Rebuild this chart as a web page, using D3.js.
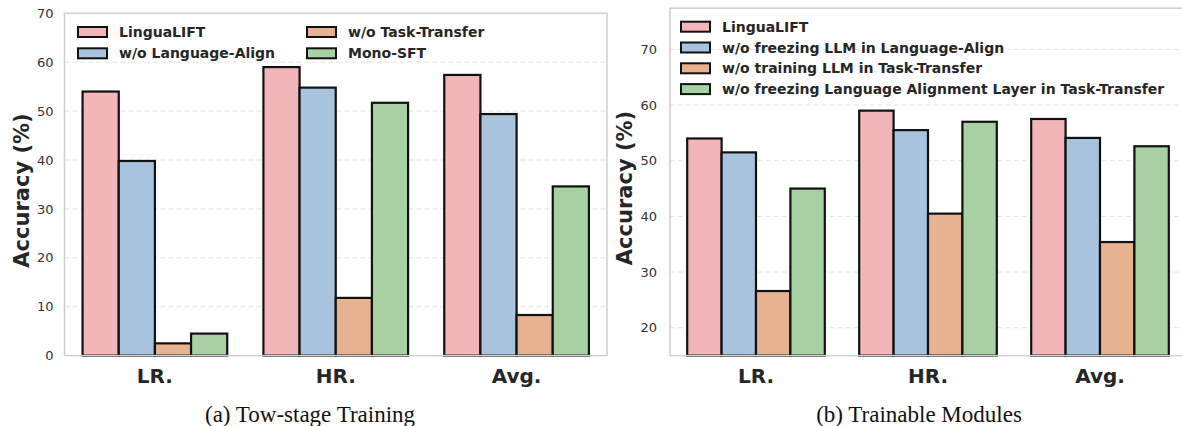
<!DOCTYPE html>
<html><head><meta charset="utf-8">
<script src="https://cdn.jsdelivr.net/npm/d3@7"></script>
<style>body{margin:0;background:#fff}svg{display:block}</style>
</head><body><svg id="c" width="1182" height="426"></svg>
<script>
const categories = ["LR.", "HR.", "Avg."];
const colors = ["#f3b6b8", "#a7c3de", "#e6b290", "#a8d1a3"];

const seriesA = ["LinguaLIFT", "w/o Language-Align", "w/o Task-Transfer", "Mono-SFT"];
const valuesA = [
  [54.0, 59.0, 57.4],
  [39.8, 54.8, 49.4],
  [2.5, 11.8, 8.3],
  [4.5, 51.7, 34.6]
];
const ticksA = [0, 10, 20, 30, 40, 50, 60, 70];

const seriesB = ["LinguaLIFT", "w/o freezing LLM in Language-Align", "w/o training LLM in Task-Transfer", "w/o freezing Language Alignment Layer in Task-Transfer"];
const valuesB = [
  [54.0, 59.0, 57.5],
  [51.5, 55.5, 54.1],
  [26.6, 40.5, 35.4],
  [45.0, 57.0, 52.6]
];
const ticksB = [20, 30, 40, 50, 60, 70];

const svg = d3.select("#c");

function panel(cfg) {
  const g = svg.append("g");
  const x = d3.scaleBand().domain(categories).range([cfg.x0, cfg.x1]).paddingInner(0).paddingOuter(0);
  const y = d3.scaleLinear().domain(cfg.yDomain).range([cfg.yb, cfg.yt]);
  g.selectAll(".grid").data(cfg.ticks).enter().append("line")
    .attr("x1", cfg.x0).attr("x2", cfg.x1).attr("y1", d => y(d)).attr("y2", d => y(d))
    .attr("stroke", "#e3e3e3").attr("stroke-width", 1).attr("stroke-dasharray", "5,3");
  const ya = d3.axisLeft(y).tickValues(cfg.ticks).tickSize(0).tickPadding(cfg.tp);
  const yg = g.append("g").attr("transform", `translate(${cfg.x0},0)`).call(ya);
  yg.select(".domain").remove();
  yg.selectAll("text").attr("font-family", "DejaVu Sans").attr("font-size", 13).attr("fill", "#333");
  cfg.values.forEach((vals, si) => {
    g.selectAll(".b" + si).data(vals).enter().append("rect")
      .attr("x", (d, i) => x(categories[i]) + x.bandwidth() * 0.1 + si * x.bandwidth() * 0.2)
      .attr("width", x.bandwidth() * 0.2)
      .attr("y", d => y(d))
      .attr("height", d => y(cfg.yDomain[0]) - y(d))
      .attr("fill", colors[si]).attr("stroke", "#111").attr("stroke-width", 2.2);
  });
  g.append("rect").attr("x", cfg.x0).attr("y", cfg.yt).attr("width", cfg.x1 - cfg.x0).attr("height", cfg.yb - cfg.yt)
    .attr("fill", "none").attr("stroke", "#cfcfcf").attr("stroke-width", 1.5);
  g.selectAll(".xl").data(categories).enter().append("text")
    .attr("x", d => x(d) + x.bandwidth() / 2).attr("y", 383)
    .attr("text-anchor", "middle").attr("font-family", "DejaVu Sans").attr("font-weight", "bold")
    .attr("font-size", 20).attr("fill", "#262626").text(d => d);
  g.append("text").attr("transform", `translate(${cfg.ylx},${cfg.ylc}) rotate(-90)`)
    .attr("text-anchor", "middle").attr("font-family", "DejaVu Sans").attr("font-weight", "bold")
    .attr("font-size", 21).attr("fill", "#262626").text("Accuracy (%)");
  const lg = g.append("g");
  cfg.series.forEach((s, i) => {
    const p = cfg.legendPos[i];
    lg.append("rect").attr("x", p[0]).attr("y", p[1] - 5).attr("width", 29).attr("height", 10)
      .attr("fill", colors[i]).attr("stroke", "#111").attr("stroke-width", 2);
    lg.append("text").attr("x", p[0] + 41).attr("y", p[1] + 5)
      .attr("font-family", "DejaVu Sans").attr("font-weight", "bold").attr("font-size", 14)
      .attr("fill", "#262626").text(s);
  });
  g.append("text").attr("x", cfg.capx).attr("y", 421.5).attr("text-anchor", "middle")
    .attr("font-family", "Liberation Serif").attr("font-size", 23).attr("fill", "#111").text(cfg.caption);
}

panel({
  x0: 64.5, x1: 607, yt: 13.3, yb: 355.6, yDomain: [0, 70], ticks: ticksA, tp: 11,
  series: seriesA, values: valuesA, ylx: 28.5, ylc: 190.5, capx: 310,
  legendPos: [[78, 32], [78, 53.3], [307, 32], [307, 53.3]],
  caption: "(a) Tow-stage Training"
});
panel({
  x0: 670, x1: 1186, yt: 8.2, yb: 355.6, yDomain: [15, 77.4], ticks: ticksB, tp: 13,
  series: seriesB, values: valuesB, ylx: 632, ylc: 188, capx: 919,
  legendPos: [[681, 26.7], [681, 47.5], [681, 68.3], [681, 89.1]],
  caption: "(b) Trainable Modules"
});
</script></body></html>
